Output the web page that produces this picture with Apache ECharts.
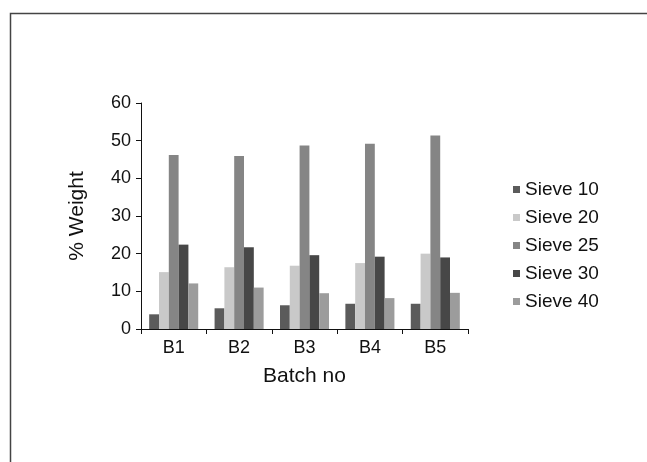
<!DOCTYPE html>
<html>
<head>
<meta charset="UTF-8">
<title>Sieve analysis</title>
<script type="text/javascript" src="https://cdn.jsdelivr.net/npm/echarts@6/dist/echarts.min.js"></script>
<style>
html,body{margin:0;padding:0;background:#fff;}
</style>
</head>
<body>
<div id="main" style="width:647px;height:462px;"></div>

<script type="text/javascript">
// batches on x axis
var batches = ['B1', 'B2', 'B3', 'B4', 'B5'];
// % weight retained on each sieve
var sieve10 = [3.9, 5.5, 6.3, 6.7, 6.7];
var sieve20 = [15.1, 16.4, 16.8, 17.5, 20.0];
var sieve25 = [46.2, 45.9, 48.7, 49.2, 51.4];
var sieve30 = [22.4, 21.7, 19.6, 19.2, 19.0];
var sieve40 = [12.1, 11.0, 9.5, 8.2, 9.6];
var seriesNames = ['Sieve 10', 'Sieve 20', 'Sieve 25', 'Sieve 30', 'Sieve 40'];
var seriesData = [sieve10, sieve20, sieve25, sieve30, sieve40];
var colors = ['#5b5b5b', '#c9c9c9', '#858585', '#474747', '#9c9c9c'];

var mychart = echarts.init(document.getElementById('main'));

var font = 'Liberation Sans, Arial, sans-serif';

var series = [];
for (var i = 0; i < seriesNames.length; i++) {
  series.push({
    name: seriesNames[i],
    type: 'bar',
    data: seriesData[i],
    barGap: '0%',
    barCategoryGap: '25%',
    itemStyle: { color: colors[i] },
    animation: false
  });
}

var option = {
  animation: false,
  textStyle: { fontFamily: font },
  // outer frame
  graphic: [{
    type: 'rect',
    shape: { x: 10.5, y: 13.5, width: 700, height: 500 },
    style: { fill: 'none', stroke: '#444', lineWidth: 1.5 }
  }],
  legend: {
    orient: 'vertical',
    left: 508,
    top: 175,
    itemWidth: 7,
    itemHeight: 7,
    itemGap: 9,
    icon: 'rect',
    textStyle: { fontSize: 19, color: '#111', fontFamily: font },
    data: seriesNames
  },
  grid: {
    left: 141,
    top: 103,
    right: 179,
    bottom: 133
  },
  xAxis: {
    type: 'category',
    data: batches,
    name: 'Batch no',
    nameLocation: 'middle',
    nameGap: 37,
    nameTextStyle: { fontSize: 21, color: '#111' },
    axisLine: { lineStyle: { color: '#111', width: 1 } },
    axisTick: { show: true, length: 5, lineStyle: { color: '#111' } },
    axisLabel: { fontSize: 18, color: '#111', margin: 10 }
  },
  yAxis: {
    type: 'value',
    min: 0,
    max: 60,
    interval: 10,
    name: '% Weight',
    nameLocation: 'middle',
    nameGap: 53,
    nameTextStyle: { fontSize: 21, color: '#111' },
    axisLine: { show: true, lineStyle: { color: '#111', width: 1 } },
    axisTick: { show: true, length: 5, lineStyle: { color: '#111' } },
    axisLabel: { fontSize: 18, color: '#111', margin: 10 },
    splitLine: { show: false }
  },
  series: series
};

mychart.setOption(option);
</script>
</body>
</html>
